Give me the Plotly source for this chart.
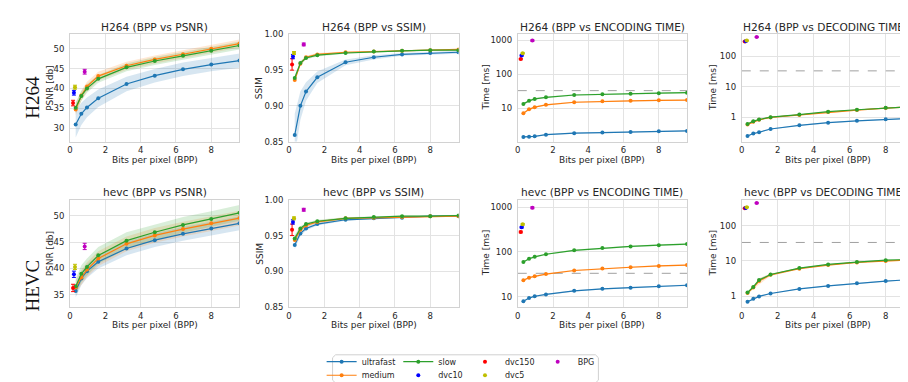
import plotly.graph_objects as go

# ---------------- data ----------------
BPP = [0.32, 0.64, 0.96, 1.6, 3.2, 4.8, 6.4, 8.0, 9.6]
X_TICKS = [0, 2, 4, 6, 8]
X_RANGE = [0, 9.6]
REALTIME_MS = 33.3

# H264
H264_PSNR_ULTRAFAST = [30.9, 33.6, 35.2, 37.5, 41.1, 43.2, 44.8, 46.0, 47.0]
H264_PSNR_MEDIUM = [34.7, 38.2, 40.5, 43.1, 45.7, 47.3, 48.6, 50.0, 51.3]
H264_PSNR_SLOW = [35.1, 38.1, 40.0, 42.4, 45.3, 46.9, 48.2, 49.5, 50.8]
H264_PSNR_ULTRAFAST_CI = [3.3, 2.8, 2.5, 2.2, 1.8, 1.7, 1.7, 1.7, 1.8]
H264_PSNR_MEDIUM_CI = [1.5, 1.3, 1.2, 1.1, 1.0, 1.0, 1.0, 1.0, 1.0]
H264_PSNR_SLOW_CI = [1.4, 1.2, 1.1, 1.0, 1.0, 1.0, 1.0, 1.0, 1.0]

H264_SSIM_ULTRAFAST = [0.859, 0.900, 0.920, 0.940, 0.961, 0.968, 0.972, 0.974, 0.975]
H264_SSIM_MEDIUM = [0.936, 0.959, 0.968, 0.972, 0.975, 0.976, 0.977, 0.978, 0.979]
H264_SSIM_SLOW = [0.939, 0.960, 0.967, 0.971, 0.974, 0.976, 0.977, 0.978, 0.978]
H264_SSIM_ULTRAFAST_CI = [0.030, 0.020, 0.013, 0.008, 0.004, 0.003, 0.002, 0.002, 0.002]
H264_SSIM_MEDIUM_CI = [0.004, 0.003, 0.002, 0.002, 0.001, 0.001, 0.001, 0.001, 0.001]
H264_SSIM_SLOW_CI = [0.004, 0.003, 0.002, 0.002, 0.001, 0.001, 0.001, 0.001, 0.001]

H264_ENC_ULTRAFAST = [1.46, 1.49, 1.52, 1.70, 1.88, 1.96, 2.05, 2.15, 2.20]
H264_ENC_MEDIUM = [7.2, 9.4, 10.9, 12.8, 15.2, 16.3, 16.7, 17.3, 17.6]
H264_ENC_SLOW = [13.6, 16.7, 19.0, 21.2, 24.8, 26.2, 27.0, 28.0, 29.0]
H264_ENC_ULTRAFAST_CI = [0.05, 0.05, 0.05, 0.07, 0.08, 0.08, 0.08, 0.09, 0.10]
H264_ENC_MEDIUM_CI = [0.4, 0.5, 0.5, 0.6, 0.7, 0.7, 0.7, 0.8, 0.8]
H264_ENC_SLOW_CI = [0.8, 0.9, 1.0, 1.1, 1.2, 1.3, 1.3, 1.4, 1.5]

H264_DEC_ULTRAFAST = [0.24, 0.29, 0.32, 0.41, 0.54, 0.66, 0.76, 0.86, 0.93]
H264_DEC_MEDIUM = [0.58, 0.71, 0.82, 0.98, 1.19, 1.48, 1.72, 1.99, 2.25]
H264_DEC_SLOW = [0.60, 0.74, 0.84, 1.00, 1.22, 1.52, 1.76, 2.04, 2.25]
H264_DEC_ULTRAFAST_CI = [0.01, 0.01, 0.01, 0.015, 0.02, 0.025, 0.03, 0.03, 0.035]
H264_DEC_MEDIUM_CI = [0.02, 0.025, 0.03, 0.035, 0.04, 0.05, 0.06, 0.07, 0.08]
H264_DEC_SLOW_CI = [0.02, 0.025, 0.03, 0.035, 0.04, 0.05, 0.06, 0.07, 0.08]

# HEVC
HEVC_PSNR_ULTRAFAST = [35.7, 38.1, 39.5, 41.3, 43.8, 45.4, 46.6, 47.6, 48.6]
HEVC_PSNR_MEDIUM = [36.4, 38.3, 39.8, 41.9, 44.7, 46.3, 47.5, 48.6, 49.6]
HEVC_PSNR_SLOW = [36.6, 39.0, 40.3, 42.5, 45.3, 46.9, 48.3, 49.4, 50.6]
HEVC_PSNR_ULTRAFAST_CI = [1.2, 1.3, 1.3, 1.3, 1.3, 1.3, 1.3, 1.3, 1.3]
HEVC_PSNR_MEDIUM_CI = [1.3, 1.4, 1.4, 1.4, 1.4, 1.4, 1.4, 1.4, 1.4]
HEVC_PSNR_SLOW_CI = [1.5, 1.6, 1.6, 1.6, 1.6, 1.5, 1.5, 1.5, 1.5]

HEVC_SSIM_ULTRAFAST = [0.937, 0.953, 0.960, 0.966, 0.972, 0.974, 0.975, 0.977, 0.977]
HEVC_SSIM_MEDIUM = [0.944, 0.958, 0.964, 0.969, 0.974, 0.975, 0.976, 0.977, 0.977]
HEVC_SSIM_SLOW = [0.946, 0.960, 0.966, 0.970, 0.974, 0.976, 0.977, 0.977, 0.978]
HEVC_SSIM_ULTRAFAST_CI = [0.006, 0.004, 0.003, 0.002, 0.0015, 0.001, 0.001, 0.001, 0.001]
HEVC_SSIM_MEDIUM_CI = [0.005, 0.003, 0.002, 0.002, 0.0015, 0.001, 0.001, 0.001, 0.001]
HEVC_SSIM_SLOW_CI = [0.005, 0.003, 0.002, 0.002, 0.0015, 0.001, 0.001, 0.001, 0.001]

HEVC_ENC_ULTRAFAST = [7.9, 9.3, 10.2, 11.2, 13.5, 15.0, 15.9, 17.1, 18.0]
HEVC_ENC_MEDIUM = [23.3, 26.6, 28.5, 32.0, 38.5, 42.5, 45.5, 48.6, 51.0]
HEVC_ENC_SLOW = [59.6, 70.4, 77.8, 89.0, 109.0, 122.0, 133.0, 142.0, 150.0]
HEVC_ENC_ULTRAFAST_CI = [0.3, 0.3, 0.4, 0.4, 0.5, 0.5, 0.6, 0.6, 0.6]
HEVC_ENC_MEDIUM_CI = [0.9, 1.0, 1.1, 1.2, 1.4, 1.6, 1.7, 1.8, 1.9]
HEVC_ENC_SLOW_CI = [2.5, 3.0, 3.3, 3.8, 4.5, 5.0, 5.5, 6.0, 6.5]

HEVC_DEC_ULTRAFAST = [0.71, 0.86, 1.00, 1.21, 1.63, 1.97, 2.34, 2.71, 3.01]
HEVC_DEC_MEDIUM = [1.24, 1.77, 2.71, 4.06, 6.07, 7.67, 9.1, 10.0, 10.9]
HEVC_DEC_SLOW = [1.29, 1.85, 2.89, 4.15, 6.3, 8.0, 9.3, 10.5, 11.2]
HEVC_DEC_ULTRAFAST_CI = [0.03, 0.03, 0.04, 0.04, 0.05, 0.06, 0.07, 0.08, 0.09]
HEVC_DEC_MEDIUM_CI = [0.06, 0.12, 0.55, 0.30, 0.25, 0.25, 0.3, 0.35, 0.4]
HEVC_DEC_SLOW_CI = [0.06, 0.10, 0.30, 0.20, 0.20, 0.25, 0.3, 0.35, 0.4]

# learned / image codecs (same in both rows)
REF_NAMES = ["dvc150", "dvc10", "dvc5", "BPG"]
REF_BPP = [0.17, 0.22, 0.28, 0.83]
REF_PSNR = [36.3, 38.9, 40.3, 44.2]
REF_PSNR_ERR = [0.7, 0.6, 0.5, 0.6]
REF_SSIM = [0.958, 0.969, 0.974, 0.986]
REF_SSIM_ERR = [0.008, 0.003, 0.002, 0.002]
REF_ENC = [280.0, 357.0, 415.0, 975.0]
REF_ENC_ERR = [12.0, 15.0, 18.0, 45.0]
REF_DEC = [308.0, 315.0, 330.0, 430.0]
REF_DEC_ERR = [10.0, 10.0, 10.0, 15.0]

# ---------------- style ----------------
W, H = 908, 382
TXT = "#262626"
GRID = "#e3e3e3"
SPINE = "#d2d2d2"
FONT = "DejaVu Sans"
PRESET_NAMES = ["ultrafast", "medium", "slow"]
PRESET_COLORS = ["#1f77b4", "#ff7f0e", "#2ca02c"]
PRESET_FILLS = ["rgba(31,119,180,0.18)", "rgba(255,127,14,0.18)", "rgba(44,160,44,0.18)"]
REF_COLORS = ["#ff0000", "#0000ff", "#bfbf00", "#bf00bf"]

COL_X = [(59.3, 229.5), (279.3, 449.5), (509.0, 679.0), (734.0, 907.5)]
ROW_Y = [(22.0, 132.0), (191.7, 302.3)]
YTITLE_X = [39.0, 249.3, 476.7, 705.0]
TITLE_CX = [144.3, 364.4, 594.0, 818.0]

panels = [
    ("H264 (BPP vs PSNR)", "PSNR [db]",
     [(H264_PSNR_ULTRAFAST, H264_PSNR_ULTRAFAST_CI), (H264_PSNR_MEDIUM, H264_PSNR_MEDIUM_CI), (H264_PSNR_SLOW, H264_PSNR_SLOW_CI)],
     REF_PSNR, REF_PSNR_ERR, "linear", [26.6, 53.6], [30, 35, 40, 45, 50], None),
    ("H264 (BPP vs SSIM)", "SSIM",
     [(H264_SSIM_ULTRAFAST, H264_SSIM_ULTRAFAST_CI), (H264_SSIM_MEDIUM, H264_SSIM_MEDIUM_CI), (H264_SSIM_SLOW, H264_SSIM_SLOW_CI)],
     REF_SSIM, REF_SSIM_ERR, "linear", [0.85, 1.0], [0.85, 0.90, 0.95, 1.00], ".2f"),
    ("H264 (BPP vs ENCODING TIME)", "Time [ms]",
     [(H264_ENC_ULTRAFAST, H264_ENC_ULTRAFAST_CI), (H264_ENC_MEDIUM, H264_ENC_MEDIUM_CI), (H264_ENC_SLOW, H264_ENC_SLOW_CI)],
     REF_ENC, REF_ENC_ERR, "log", [0.03, 3.17], [10, 100, 1000], None),
    ("H264 (BPP vs DECODING TIME)", "Time [ms]",
     [(H264_DEC_ULTRAFAST, H264_DEC_ULTRAFAST_CI), (H264_DEC_MEDIUM, H264_DEC_MEDIUM_CI), (H264_DEC_SLOW, H264_DEC_SLOW_CI)],
     REF_DEC, REF_DEC_ERR, "log", [-0.8, 2.72], [1, 10, 100], None),
    ("hevc (BPP vs PSNR)", "PSNR [db]",
     [(HEVC_PSNR_ULTRAFAST, HEVC_PSNR_ULTRAFAST_CI), (HEVC_PSNR_MEDIUM, HEVC_PSNR_MEDIUM_CI), (HEVC_PSNR_SLOW, HEVC_PSNR_SLOW_CI)],
     REF_PSNR, REF_PSNR_ERR, "linear", [32.6, 53.1], [35, 40, 45, 50], None),
    ("hevc (BPP vs SSIM)", "SSIM",
     [(HEVC_SSIM_ULTRAFAST, HEVC_SSIM_ULTRAFAST_CI), (HEVC_SSIM_MEDIUM, HEVC_SSIM_MEDIUM_CI), (HEVC_SSIM_SLOW, HEVC_SSIM_SLOW_CI)],
     REF_SSIM, REF_SSIM_ERR, "linear", [0.85, 1.0], [0.85, 0.90, 0.95, 1.00], ".2f"),
    ("hevc (BPP vs ENCODING TIME)", "Time [ms]",
     [(HEVC_ENC_ULTRAFAST, HEVC_ENC_ULTRAFAST_CI), (HEVC_ENC_MEDIUM, HEVC_ENC_MEDIUM_CI), (HEVC_ENC_SLOW, HEVC_ENC_SLOW_CI)],
     REF_ENC, REF_ENC_ERR, "log", [0.76, 3.17], [10, 100, 1000], None),
    ("hevc (BPP vs DECODING TIME)", "Time [ms]",
     [(HEVC_DEC_ULTRAFAST, HEVC_DEC_ULTRAFAST_CI), (HEVC_DEC_MEDIUM, HEVC_DEC_MEDIUM_CI), (HEVC_DEC_SLOW, HEVC_DEC_SLOW_CI)],
     REF_DEC, REF_DEC_ERR, "log", [-0.31, 2.73], [1, 10, 100], None),
]

# legend placement (text-start x px, center y px) per entry
LEGEND_SLOTS = {
    "ultrafast": ("legend", 352, 358), "medium": ("legend2", 352, 372),
    "slow": ("legend3", 429, 358), "dvc10": ("legend4", 429, 372),
    "dvc150": ("legend5", 496, 358), "dvc5": ("legend6", 496, 372),
    "BPG": ("legend7", 569, 358),
}

fig = go.Figure()
annotations = []
layout_axes = {}

for i, (title, ytitle, series, rvals, rerr, ytype, yrange, yticks, yfmt) in enumerate(panels):
    n = i + 1
    row, col = divmod(i, 4)
    xs = "x" if n == 1 else f"x{n}"
    ys = "y" if n == 1 else f"y{n}"
    x0, x1 = COL_X[col]
    ytop, ybot = ROW_Y[row]

    # confidence bands + lines
    for k, (vals, ci) in enumerate(series):
        upper = [v + c for v, c in zip(vals, ci)]
        lower = [v - c for v, c in zip(vals, ci)]
        fig.add_trace(go.Scatter(x=BPP, y=upper, mode="lines", line=dict(width=0, color=PRESET_COLORS[k]),
                                 showlegend=False, hoverinfo="skip", xaxis=xs, yaxis=ys))
        fig.add_trace(go.Scatter(x=BPP, y=lower, mode="lines", line=dict(width=0, color=PRESET_COLORS[k]),
                                 fill="tonexty", fillcolor=PRESET_FILLS[k],
                                 showlegend=False, hoverinfo="skip", xaxis=xs, yaxis=ys))
    if ytype == "log":
        fig.add_trace(go.Scatter(x=X_RANGE, y=[REALTIME_MS, REALTIME_MS], mode="lines",
                                 line=dict(color="#a0a0a0", width=1, dash="dash"),
                                 showlegend=False, hoverinfo="skip", xaxis=xs, yaxis=ys))
    for k, (vals, ci) in enumerate(series):
        name = PRESET_NAMES[k]
        fig.add_trace(go.Scatter(x=BPP, y=vals, mode="lines+markers", name=name,
                                 line=dict(color=PRESET_COLORS[k], width=1.2),
                                 marker=dict(color=PRESET_COLORS[k], size=4),
                                 legend=LEGEND_SLOTS[name][0], showlegend=(n == 1),
                                 xaxis=xs, yaxis=ys))
    for k, name in enumerate(REF_NAMES):
        fig.add_trace(go.Scatter(x=[REF_BPP[k]], y=[rvals[k]], mode="markers", name=name,
                                 marker=dict(color=REF_COLORS[k], size=4),
                                 error_y=dict(type="data", array=[rerr[k]], color=REF_COLORS[k],
                                              thickness=1, width=2),
                                 legend=LEGEND_SLOTS[name][0], showlegend=(n == 1),
                                 xaxis=xs, yaxis=ys))

    layout_axes["xaxis" if n == 1 else f"xaxis{n}"] = dict(
        domain=[x0 / W, x1 / W], anchor=ys, range=X_RANGE, tickvals=X_TICKS,
        showgrid=True, gridcolor=GRID, gridwidth=1, zeroline=False,
        showline=True, linecolor=SPINE, linewidth=1, mirror=True,
        ticks="", tickfont=dict(family=FONT, size=8.5, color=TXT))
    yax = dict(
        domain=[1 - ybot / H, 1 - ytop / H], anchor=xs, type=ytype, range=yrange, tickvals=yticks,
        showgrid=True, gridcolor=GRID, gridwidth=1, zeroline=False,
        showline=True, linecolor=SPINE, linewidth=1, mirror=True,
        ticks="outside", ticklen=3, tickcolor="rgba(0,0,0,0)",
        tickfont=dict(family=FONT, size=8.5, color=TXT))
    if yfmt:
        yax["tickformat"] = yfmt
    if ytype == "log":
        yax["ticktext"] = [str(t) for t in yticks]
    layout_axes["yaxis" if n == 1 else f"yaxis{n}"] = yax

    cx = (x0 + x1) / 2
    annotations.append(dict(text=title, x=TITLE_CX[col] / W, y=1 - (ytop - 7.5) / H, xref="paper", yref="paper",
                            showarrow=False, xanchor="center", yanchor="middle",
                            font=dict(family=FONT, size=10.6, color=TXT)))
    annotations.append(dict(text="Bits per pixel (BPP)", x=cx / W, y=1 - (ybot + 18.5) / H,
                            xref="paper", yref="paper", showarrow=False,
                            xanchor="center", yanchor="middle",
                            font=dict(family=FONT, size=9, color=TXT)))
    annotations.append(dict(text=ytitle, x=YTITLE_X[col] / W, y=1 - ((ytop + ybot) / 2) / H,
                            xref="paper", yref="paper", showarrow=False, textangle=-90,
                            xanchor="center", yanchor="middle",
                            font=dict(family=FONT, size=9, color=TXT)))

# row labels
for label, cy in [("H264", 86), ("HEVC", 280)]:
    annotations.append(dict(text=label, x=22 / W, y=1 - cy / H, xref="paper", yref="paper",
                            showarrow=False, textangle=-90, xanchor="center", yanchor="middle",
                            font=dict(family="Liberation Serif", size=19, color="#111111")))

legends = {}
for name, (key, tx, ty) in LEGEND_SLOTS.items():
    legends[key] = dict(x=(tx - 40) / W, xanchor="left", y=1 - ty / H, yanchor="middle",
                        bgcolor="rgba(0,0,0,0)", borderwidth=0, orientation="v",
                        font=dict(family=FONT, size=8, color=TXT), itemclick=False,
                        itemdoubleclick=False)

# legend frame
lx0, lx1, ly0, ly1, r = 323, 590, 351, 380, 3
frame_path = (f"M{(lx0 + r) / W},{1 - ly0 / H} L{(lx1 - r) / W},{1 - ly0 / H} "
              f"L{lx1 / W},{1 - (ly0 + r) / H} L{lx1 / W},{1 - (ly1 - r) / H} "
              f"L{(lx1 - r) / W},{1 - ly1 / H} L{(lx0 + r) / W},{1 - ly1 / H} "
              f"L{lx0 / W},{1 - (ly1 - r) / H} L{lx0 / W},{1 - (ly0 + r) / H} Z")

fig.update_layout(
    width=W, height=H, margin=dict(l=0, r=0, t=0, b=0),
    paper_bgcolor="white", plot_bgcolor="white",
    font=dict(family=FONT, color=TXT),
    annotations=annotations,
    shapes=[dict(type="path", path=frame_path, xref="paper", yref="paper",
                 line=dict(color="#d0d0d0", width=1), fillcolor="rgba(255,255,255,0)", layer="below")],
    **layout_axes, **legends,
)

fig.write_html("out.html")
